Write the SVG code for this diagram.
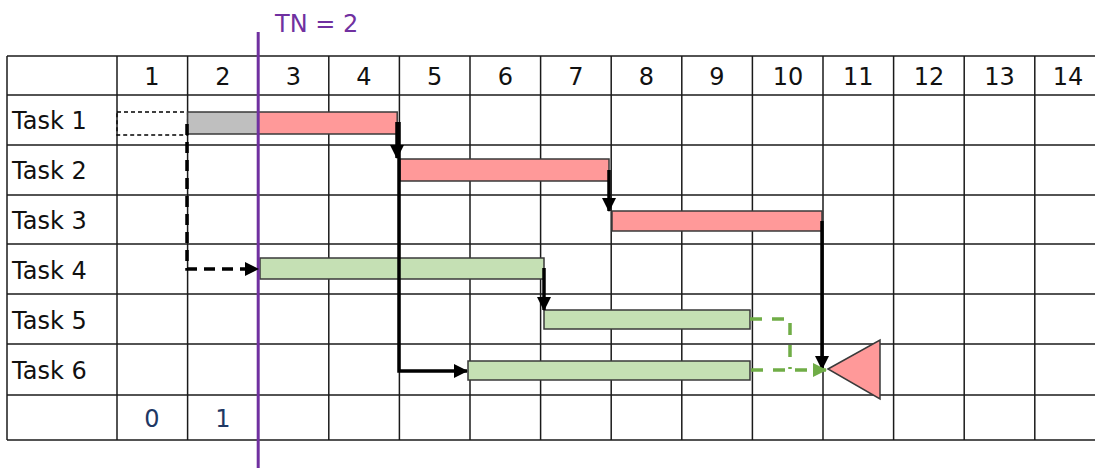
<svg xmlns="http://www.w3.org/2000/svg" width="1095" height="468" viewBox="0 0 1095 468">
<style>
.grid line{stroke:#1a1a1a;stroke-width:1.5}
.lbl{font-family:"DejaVu Sans",sans-serif;font-size:24px;fill:#111}
.hdr{font-family:"DejaVu Sans",sans-serif;font-size:24px;fill:#111;text-anchor:middle}
.cnt{font-family:"DejaVu Sans",sans-serif;font-size:24px;fill:#1f3864;text-anchor:middle}
.red{fill:#ff9999;stroke:#3a3a3a;stroke-width:1.5}
.grn{fill:#c5e0b4;stroke:#3a3a3a;stroke-width:1.5}
.gry{fill:#bfbfbf;stroke:#3a3a3a;stroke-width:1.5}
.solid{fill:none;stroke:#000;stroke-width:3.5}
.dash{fill:none;stroke:#000;stroke-width:3.5;stroke-dasharray:11,7}
.gdash{fill:none;stroke:#70ad47;stroke-width:3.5;stroke-dasharray:12,10}
</style>
<defs>
<marker id="ab" markerUnits="userSpaceOnUse" markerWidth="16" markerHeight="16" refX="13" refY="7" orient="auto"><path d="M0,0 L14,7 L0,14 Z" fill="#000"/></marker>
<marker id="ag" markerUnits="userSpaceOnUse" markerWidth="16" markerHeight="16" refX="13" refY="7" orient="auto"><path d="M0,0 L14,7 L0,14 Z" fill="#70ad47"/></marker>
</defs>
<rect width="1095" height="468" fill="#fff"/>
<g id="grid" class="grid">
<line x1="7" y1="56" x2="1095" y2="56"/>
<line x1="7" y1="95" x2="1095" y2="95"/>
<line x1="7" y1="145" x2="1095" y2="145"/>
<line x1="7" y1="195" x2="1095" y2="195"/>
<line x1="7" y1="244" x2="1095" y2="244"/>
<line x1="7" y1="294" x2="1095" y2="294"/>
<line x1="7" y1="344" x2="1095" y2="344"/>
<line x1="7" y1="395" x2="1095" y2="395"/>
<line x1="7" y1="440" x2="1095" y2="440"/>
<line x1="7" y1="56" x2="7" y2="440"/>
<line x1="117" y1="56" x2="117" y2="440"/>
<line x1="187.6" y1="56" x2="187.6" y2="440"/>
<line x1="258.2" y1="56" x2="258.2" y2="440"/>
<line x1="328.8" y1="56" x2="328.8" y2="440"/>
<line x1="399.4" y1="56" x2="399.4" y2="440"/>
<line x1="470" y1="56" x2="470" y2="440"/>
<line x1="540.6" y1="56" x2="540.6" y2="440"/>
<line x1="611.2" y1="56" x2="611.2" y2="440"/>
<line x1="681.8" y1="56" x2="681.8" y2="440"/>
<line x1="752.4" y1="56" x2="752.4" y2="440"/>
<line x1="823" y1="56" x2="823" y2="440"/>
<line x1="893.6" y1="56" x2="893.6" y2="440"/>
<line x1="964.2" y1="56" x2="964.2" y2="440"/>
<line x1="1034.8" y1="56" x2="1034.8" y2="440"/>
</g>
<g id="header">
<text class="hdr" x="152" y="85">1</text>
<text class="hdr" x="223" y="85">2</text>
<text class="hdr" x="293.5" y="85">3</text>
<text class="hdr" x="364" y="85">4</text>
<text class="hdr" x="434.7" y="85">5</text>
<text class="hdr" x="505.3" y="85">6</text>
<text class="hdr" x="576" y="85">7</text>
<text class="hdr" x="646.5" y="85">8</text>
<text class="hdr" x="717" y="85">9</text>
<text class="hdr" x="788" y="85">10</text>
<text class="hdr" x="858.3" y="85">11</text>
<text class="hdr" x="929" y="85">12</text>
<text class="hdr" x="999.5" y="85">13</text>
<text class="hdr" x="1068" y="85">14</text>
</g>
<g id="labels">
<text class="lbl" x="12" y="129">Task 1</text>
<text class="lbl" x="12" y="179">Task 2</text>
<text class="lbl" x="12" y="229">Task 3</text>
<text class="lbl" x="12" y="279">Task 4</text>
<text class="lbl" x="12" y="329">Task 5</text>
<text class="lbl" x="12" y="379">Task 6</text>
</g>
<g id="counts">
<text class="cnt" x="152" y="427">0</text>
<text class="cnt" x="223" y="427">1</text>
</g>
<g id="task1">
<rect x="117" y="112" width="70.6" height="23" fill="none" stroke="#000" stroke-width="1.3" stroke-dasharray="4,3"/>
<rect class="gry" x="187.6" y="112" width="70.6" height="22"/>
<rect class="red" x="258.2" y="112" width="139" height="22"/>
</g>
<g id="task2"><rect class="red" x="400" y="159" width="209" height="22"/></g>
<g id="task3"><rect class="red" x="612" y="211" width="210" height="20"/></g>
<g id="task4"><rect class="grn" x="260" y="258" width="284" height="21"/></g>
<g id="task5"><rect class="grn" x="544" y="310" width="206" height="19"/></g>
<g id="task6"><rect class="grn" x="468" y="361" width="282" height="19"/></g>
<g id="milestone"><polygon points="828,369 880,340 880,399" fill="#ff9999" stroke="#3a3a3a" stroke-width="1.5"/></g>
<g id="tn">
<line x1="258.2" y1="32" x2="258.2" y2="468" stroke="#7030a0" stroke-width="3"/>
<text x="275" y="32" font-family="DejaVu Sans, sans-serif" font-size="24" fill="#7030a0">TN = 2</text>
</g>
<g id="connectors">
<path class="solid" d="M397,122 V158" marker-end="url(#ab)"/>
<path class="solid" d="M399,122 V371 H467" marker-end="url(#ab)"/>
<path class="solid" d="M609,170 V211" marker-end="url(#ab)"/>
<path class="solid" d="M822,221 V369" marker-end="url(#ab)"/>
<path class="solid" d="M544,268 V310" marker-end="url(#ab)"/>
<path class="dash" d="M187,124 V269 H258" marker-end="url(#ab)"/>
<path class="gdash" d="M750,319 H790 V369"/>
<path class="gdash" d="M751,370 H826" marker-end="url(#ag)"/>
</g>
</svg>
